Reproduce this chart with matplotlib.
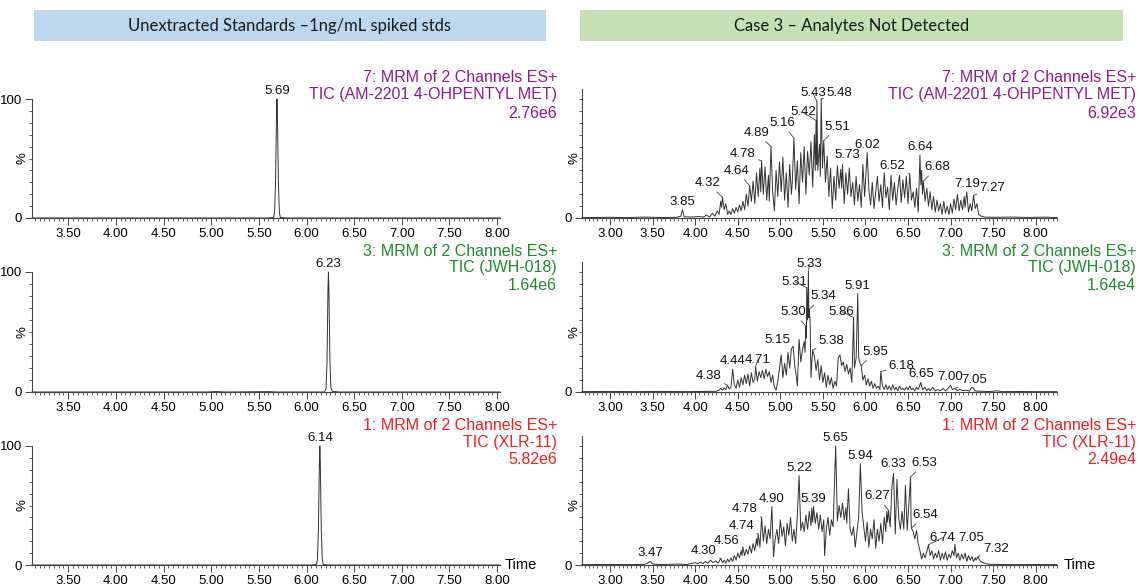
import matplotlib.pyplot as plt
from matplotlib.patches import Rectangle
from matplotlib.ticker import MultipleLocator, FixedLocator, FormatStrFormatter

# ---- data: chromatogram points (retention time in min, relative intensity in %) ----
am_std = [(3.12, 0), (5.60, 0), (5.655, 0.5), (5.665, 5), (5.675, 30), (5.685, 85),
          (5.69, 100), (5.695, 85), (5.705, 30), (5.715, 5), (5.725, 0.5), (5.78, 0), (8.03, 0)]
jwh_std = [(3.12, 0), (4.95, 0), (5.05, 0.4), (5.15, 0), (5.60, 0.3), (5.70, 0), (6.19, 0),
           (6.205, 3), (6.215, 25), (6.225, 85), (6.23, 100), (6.235, 85), (6.245, 28),
           (6.255, 4), (6.27, 0.5), (6.35, 0), (8.03, 0)]
xlr_std = [(3.12, 0), (6.05, 0), (6.105, 0.5), (6.115, 5), (6.125, 30), (6.135, 85),
           (6.14, 100), (6.145, 85), (6.155, 30), (6.165, 5), (6.175, 0.5), (6.23, 0), (8.03, 0)]

am_case = [
    (2.67, 0.3), (3.00, 0.6), (3.20, 0.3), (3.40, 0.8), (3.60, 0.4), (3.78, 0.6), (3.83, 1.5),
    (3.85, 7), (3.87, 1.0), (3.95, 0.8), (4.05, 1.2), (4.10, 0.8), (4.13, 2.5), (4.17, 0.8),
    (4.20, 4), (4.23, 1.5), (4.26, 6), (4.28, 3), (4.30, 14), (4.31, 9), (4.32, 17.5),
    (4.34, 7), (4.36, 12), (4.38, 3), (4.40, 6), (4.42, 3), (4.44, 8), (4.46, 4), (4.48, 9),
    (4.50, 5), (4.52, 11), (4.54, 6), (4.56, 14), (4.58, 7), (4.60, 20), (4.62, 10),
    (4.64, 27), (4.66, 14), (4.68, 31), (4.70, 12), (4.72, 38), (4.74, 18), (4.76, 42),
    (4.77, 22), (4.78, 48), (4.80, 20), (4.82, 43), (4.84, 15), (4.86, 36), (4.87, 14),
    (4.89, 60), (4.91, 22), (4.93, 6), (4.95, 40), (4.97, 18), (4.99, 47), (5.01, 22),
    (5.03, 51), (5.05, 15), (5.07, 38), (5.09, 9), (5.11, 45), (5.13, 20), (5.14, 30),
    (5.16, 67), (5.18, 24), (5.20, 48), (5.22, 12), (5.24, 55), (5.26, 30), (5.28, 60),
    (5.30, 20), (5.32, 56), (5.34, 36), (5.36, 64), (5.38, 26), (5.40, 70), (5.41, 40),
    (5.42, 82), (5.425, 45), (5.43, 98), (5.44, 40), (5.46, 62), (5.47, 35), (5.48, 100),
    (5.495, 42), (5.51, 65), (5.53, 30), (5.55, 52), (5.57, 18), (5.59, 42), (5.61, 8),
    (5.63, 35), (5.65, 15), (5.67, 44), (5.69, 25), (5.71, 41), (5.72, 25), (5.73, 45),
    (5.75, 12), (5.77, 38), (5.79, 20), (5.81, 42), (5.83, 18), (5.85, 30), (5.87, 11),
    (5.89, 35), (5.91, 14), (5.93, 28), (5.95, 9), (5.97, 45), (5.99, 18), (6.00, 30),
    (6.02, 55), (6.04, 24), (6.06, 11), (6.08, 30), (6.10, 8), (6.12, 22), (6.14, 35),
    (6.16, 14), (6.18, 28), (6.20, 9), (6.22, 38), (6.24, 17), (6.26, 26), (6.28, 7),
    (6.30, 36), (6.32, 15), (6.34, 30), (6.36, 11), (6.38, 25), (6.40, 36), (6.42, 13),
    (6.44, 32), (6.46, 17), (6.48, 35), (6.50, 12), (6.52, 37), (6.54, 15), (6.56, 22),
    (6.58, 9), (6.60, 25), (6.62, 5), (6.64, 53), (6.65, 28), (6.66, 40), (6.67, 20),
    (6.68, 31), (6.70, 14), (6.72, 25), (6.74, 10), (6.76, 22), (6.78, 7), (6.80, 18),
    (6.82, 5), (6.84, 15), (6.86, 6), (6.88, 12), (6.90, 3), (6.92, 14), (6.94, 4),
    (6.96, 10), (6.98, 3), (7.00, 12), (7.02, 4), (7.04, 16), (7.06, 7), (7.08, 20),
    (7.10, 6), (7.12, 15), (7.14, 7), (7.16, 18), (7.17, 9), (7.19, 22), (7.21, 5),
    (7.23, 12), (7.25, 6), (7.27, 19), (7.29, 8), (7.31, 12), (7.33, 3), (7.36, 1.5),
    (7.40, 0.8), (7.50, 0.6), (7.70, 0.8), (7.90, 0.5), (8.10, 0.7), (8.25, 0.4)]

jwh_case = [
    (2.67, 0.3), (3.00, 0.5), (3.30, 0.3), (3.60, 0.5), (3.90, 0.3), (4.10, 0.5), (4.25, 0.6),
    (4.28, 1.5), (4.30, 3), (4.32, 1.5), (4.34, 3.5), (4.36, 2), (4.38, 5.6), (4.40, 2.5),
    (4.42, 4), (4.44, 19), (4.46, 6), (4.48, 3), (4.50, 10), (4.52, 4), (4.54, 12), (4.56, 6),
    (4.58, 14), (4.60, 7), (4.62, 15), (4.64, 5), (4.66, 16), (4.68, 8), (4.70, 11),
    (4.71, 21), (4.73, 9), (4.75, 17), (4.77, 12), (4.79, 18), (4.81, 11), (4.83, 19),
    (4.85, 13), (4.87, 17), (4.89, 8), (4.91, 14), (4.93, 4), (4.95, 1.5), (4.97, 9),
    (4.99, 20), (5.01, 31), (5.03, 12), (5.05, 24), (5.07, 14), (5.09, 33), (5.11, 20),
    (5.13, 36), (5.15, 38), (5.17, 22), (5.19, 12), (5.20, 5), (5.22, 44), (5.24, 25),
    (5.26, 35), (5.28, 42), (5.29, 33), (5.30, 55), (5.305, 45), (5.31, 87), (5.32, 60),
    (5.33, 100), (5.335, 62), (5.34, 69), (5.35, 58), (5.36, 12), (5.37, 25), (5.38, 35),
    (5.40, 30), (5.42, 18), (5.44, 27), (5.46, 10), (5.48, 22), (5.50, 8), (5.52, 16),
    (5.54, 4), (5.56, 14), (5.58, 6), (5.60, 12), (5.62, 3), (5.64, 9), (5.66, 5),
    (5.68, 28), (5.70, 31), (5.72, 22), (5.74, 25), (5.76, 17), (5.78, 23), (5.80, 15),
    (5.82, 20), (5.84, 8), (5.86, 62), (5.87, 20), (5.89, 28), (5.91, 82), (5.92, 30),
    (5.93, 25), (5.95, 22), (5.97, 10), (5.99, 14), (6.01, 6), (6.03, 11), (6.05, 5),
    (6.07, 9), (6.09, 3), (6.11, 7), (6.13, 3), (6.15, 5), (6.17, 2), (6.18, 17), (6.20, 5),
    (6.22, 2), (6.24, 6), (6.26, 2), (6.28, 5), (6.30, 1.5), (6.32, 6), (6.34, 2), (6.36, 4),
    (6.38, 1), (6.40, 5), (6.42, 2), (6.44, 3), (6.46, 1.5), (6.48, 4), (6.50, 2), (6.52, 5),
    (6.54, 2), (6.56, 3), (6.58, 1), (6.60, 4), (6.62, 2), (6.65, 8), (6.67, 2), (6.70, 4),
    (6.72, 1), (6.74, 3), (6.76, 1), (6.79, 4), (6.82, 1), (6.85, 2), (6.88, 1), (6.91, 3),
    (6.94, 1), (6.97, 3), (7.00, 5.6), (7.02, 2), (7.05, 3), (7.08, 1), (7.11, 2.5),
    (7.14, 1), (7.18, 1.5), (7.22, 0.8), (7.25, 4), (7.27, 3), (7.29, 0.8), (7.35, 0.6),
    (7.45, 0.4), (7.55, 1.0), (7.60, 0.3), (7.80, 0.4), (8.00, 0.3), (8.25, 0.3)]

xlr_case = [
    (2.67, 0.3), (3.00, 0.5), (3.20, 0.3), (3.40, 0.5), (3.44, 1.5), (3.47, 3), (3.50, 0.8),
    (3.60, 0.4), (3.80, 0.8), (3.90, 0.4), (3.95, 1.2), (4.00, 2), (4.03, 1), (4.06, 2.5),
    (4.09, 1.2), (4.12, 3), (4.15, 1.5), (4.18, 4), (4.21, 2), (4.24, 3.5), (4.27, 1.5),
    (4.30, 5.5), (4.32, 2), (4.34, 4), (4.36, 1.5), (4.38, 5), (4.40, 2.5), (4.42, 6),
    (4.44, 3), (4.46, 8), (4.48, 4), (4.50, 10), (4.52, 6), (4.54, 12), (4.55, 8),
    (4.56, 15), (4.58, 8), (4.60, 13), (4.62, 9), (4.64, 16), (4.66, 10), (4.68, 18),
    (4.70, 12), (4.72, 22), (4.73, 16), (4.74, 26), (4.76, 15), (4.78, 40), (4.80, 20),
    (4.82, 33), (4.84, 18), (4.86, 30), (4.88, 22), (4.90, 49), (4.92, 7), (4.94, 22),
    (4.96, 30), (4.98, 18), (5.00, 38), (5.02, 24), (5.04, 32), (5.06, 16), (5.08, 35),
    (5.10, 25), (5.12, 40), (5.14, 20), (5.16, 30), (5.18, 18), (5.20, 42), (5.22, 75),
    (5.24, 29), (5.26, 36), (5.28, 28), (5.30, 42), (5.32, 30), (5.34, 45), (5.36, 33),
    (5.37, 48), (5.38, 36), (5.39, 49), (5.41, 35), (5.43, 44), (5.45, 30), (5.47, 42),
    (5.49, 28), (5.51, 38), (5.52, 8), (5.54, 30), (5.56, 40), (5.58, 25), (5.60, 38),
    (5.62, 32), (5.65, 100), (5.67, 37), (5.69, 50), (5.71, 40), (5.73, 52), (5.75, 38),
    (5.77, 48), (5.78, 35), (5.80, 64), (5.82, 30), (5.84, 25), (5.86, 32), (5.88, 15),
    (5.90, 28), (5.92, 40), (5.94, 85), (5.96, 45), (5.98, 32), (6.00, 20), (6.02, 36),
    (6.04, 15), (6.06, 30), (6.08, 22), (6.10, 38), (6.12, 14), (6.14, 30), (6.16, 20),
    (6.18, 35), (6.20, 18), (6.22, 40), (6.24, 28), (6.25, 45), (6.26, 36), (6.27, 46),
    (6.29, 32), (6.31, 65), (6.33, 77), (6.35, 26), (6.37, 72), (6.39, 40), (6.41, 30),
    (6.43, 45), (6.45, 30), (6.47, 67), (6.49, 29), (6.51, 52), (6.53, 74), (6.535, 40),
    (6.54, 31), (6.56, 28), (6.58, 22), (6.60, 29), (6.62, 18), (6.64, 12), (6.66, 5),
    (6.68, 10), (6.70, 6), (6.72, 11), (6.74, 17), (6.76, 8), (6.78, 12), (6.80, 5),
    (6.82, 10), (6.84, 6), (6.86, 12), (6.88, 4), (6.90, 10), (6.92, 5), (6.94, 11),
    (6.96, 4), (6.98, 9), (7.00, 6), (7.02, 12), (7.04, 8), (7.05, 17), (7.07, 6), (7.09, 10),
    (7.11, 4), (7.13, 9), (7.15, 5), (7.17, 10), (7.19, 3), (7.21, 8), (7.23, 4), (7.25, 7),
    (7.27, 3), (7.29, 6), (7.30, 4), (7.32, 7), (7.35, 3), (7.38, 2), (7.42, 1), (7.46, 0.6),
    (7.60, 0.4), (7.80, 0.3), (8.00, 0.4), (8.25, 0.3)]

# labelled peaks (retention times)
std_peaks = [[5.69], [6.23], [6.14]]
am_peaks = [3.85, 4.32, 4.64, 4.78, 4.89, 5.16, 5.42, 5.43, 5.48, 5.51, 5.73, 6.02,
            6.52, 6.64, 6.68, 7.19, 7.27]
jwh_peaks = [4.38, 4.44, 4.71, 5.15, 5.30, 5.31, 5.33, 5.34, 5.38, 5.86, 5.91, 5.95,
             6.18, 6.65, 7.00, 7.05]
xlr_peaks = [3.47, 4.30, 4.56, 4.74, 4.78, 4.90, 5.22, 5.39, 5.65, 5.94, 6.27, 6.33,
             6.53, 6.54, 6.74, 7.05, 7.32]

left_title = "Unextracted Standards \u20131ng/mL spiked stds"
right_title = "Case 3 \u2013 Analytes Not Detected"
channels = ["7: MRM of 2 Channels ES+", "3: MRM of 2 Channels ES+", "1: MRM of 2 Channels ES+"]
compounds = ["TIC (AM-2201 4-OHPENTYL MET)", "TIC (JWH-018)", "TIC (XLR-11)"]
std_max = ["2.76e6", "1.64e6", "5.82e6"]
case_max = ["6.92e3", "1.64e4", "2.49e4"]

# ---- layout (pixels) ----
# label offsets (dx, dy) from peak tip; dx != 0 draws a leader line
am_off = [(0, 2), (-15, 8), (-13, 9), (-19, 1), (-14, 8), (-12, 9), (-13, 2), (-4, 2),
          (18, 0), (14, 8), (5, 3), (0, 2), (-17, 2), (0, 2), (14, 8), (0, 2), (19, 1)]
jwh_off = [(-19, 3), (0, 2), (2, 1), (-16, 0), (-13, 8), (-12, 0), (1, 2), (14, 7),
           (19, 3), (-12, 0), (0, 2), (14, 8), (21, 0), (0, 2), (0, 2), (19, 2)]
xlr_off = [(0, 2), (-17, 1), (-16, 0), (-17, 2), (-17, 2), (0, 2), (0, 2), (0, 2), (0, 2),
           (0, 2), (-11, 8), (0, 3), (14, 8), (14, 7), (14, 1), (16, 1), (18, 2)]

W, H = 1139, 586
zero_y = [218, 392, 565]
full_y = [99, 272, 446]
head_y = [(77, 95, 113), (251, 268, 285), (425, 442, 459)]
colors = ["#8E1C8C", "#1F8B2C", "#F2201E"]
line_col = "#333333"

plt.rcParams['font.family'] = ['Liberation Sans', 'DejaVu Sans']
fig = plt.figure(figsize=(W / 100, H / 100), dpi=100)


def style(ax, xlim, ymax, ymajor):
    ax.set_xlim(*xlim)
    ax.set_ylim(0, ymax)
    ax.patch.set_alpha(0)
    for s in ['top', 'right']:
        ax.spines[s].set_visible(False)
    for s in ['left', 'bottom']:
        ax.spines[s].set_color('#444444')
        ax.spines[s].set_linewidth(0.8)
    ax.xaxis.set_major_locator(MultipleLocator(0.5))
    ax.xaxis.set_minor_locator(MultipleLocator(0.05))
    ax.xaxis.set_major_formatter(FormatStrFormatter('%.2f'))
    ax.yaxis.set_major_locator(FixedLocator(ymajor))
    ax.yaxis.set_minor_locator(MultipleLocator(10))
    ax.tick_params(which='major', length=5, width=0.7, color='#444444', labelsize=9.5, pad=2)
    ax.tick_params(which='minor', length=2.5, width=0.6, color='#444444')


def draw(ax, pts, peaks, offsets):
    t = [p[0] for p in pts]
    y = [p[1] for p in pts]
    ax.plot(t, y, color=line_col, lw=0.7, clip_on=False)
    for pk, (dx, dy) in zip(peaks, offsets):
        h = y[t.index(pk)]
        kw = {}
        if dx != 0:
            kw['arrowprops'] = dict(arrowstyle='-', lw=0.6, color='#444444',
                                    shrinkA=0, shrinkB=0)
        ax.annotate(f"{pk:.2f}", (pk, h), xytext=(dx, dy), textcoords='offset pixels',
                    ha='center', va='bottom', fontsize=9.5, color='#111111',
                    annotation_clip=False, **kw)


stds = [am_std, jwh_std, xlr_std]
cases = [am_case, jwh_case, xlr_case]
case_peaks = [am_peaks, jwh_peaks, xlr_peaks]
case_off = [am_off, jwh_off, xlr_off]

for r in range(3):
    z, f = zero_y[r], full_y[r]
    axl = fig.add_axes([32 / W, 1 - z / H, 468 / W, (z - f) / H])
    style(axl, (3.12, 8.03), 100, [0, 100])
    draw(axl, stds[r], std_peaks[r], [(0, 2)])
    fig.text(22 / W, 1 - (z + f) / 2 / H, '%', rotation=90, ha='center', va='center',
             fontsize=9.5)

    top = z - 1.08 * (z - f)
    axr = fig.add_axes([582 / W, 1 - z / H, 475 / W, (z - top) / H])
    style(axr, (2.67, 8.25), 108, [0])
    draw(axr, cases[r], case_peaks[r], case_off[r])
    fig.text(575 / W, 1 - (z + f) / 2 / H, '%', rotation=90, ha='center', va='center',
             fontsize=9.5)

    for x_right, mx in [(557, std_max[r]), (1136, case_max[r])]:
        for s, yy in zip([channels[r], compounds[r], mx], head_y[r]):
            fig.text(x_right / W, 1 - yy / H, s, ha='right', va='center',
                     fontsize=11.5, color=colors[r])

    if r == 2:
        for xx in (505, 1064):
            fig.text(xx / W, 1 - z / H, 'Time', ha='left', va='center', fontsize=10.5)

# header boxes
for x0, x1, col, title in [(34, 546, '#BDD7EE', left_title), (580, 1123, '#C5E0B4', right_title)]:
    fig.patches.append(Rectangle((x0 / W, 1 - 41 / H), (x1 - x0) / W, 31 / H,
                                 transform=fig.transFigure, facecolor=col, edgecolor='none'))
    fig.text((x0 + x1) / 2 / W, 1 - 25.5 / H, title, ha='center', va='center',
             fontsize=12, family=['Lato', 'DejaVu Sans'], color='#1a1a1a')

fig.savefig('out.png', dpi=100, facecolor='white')
